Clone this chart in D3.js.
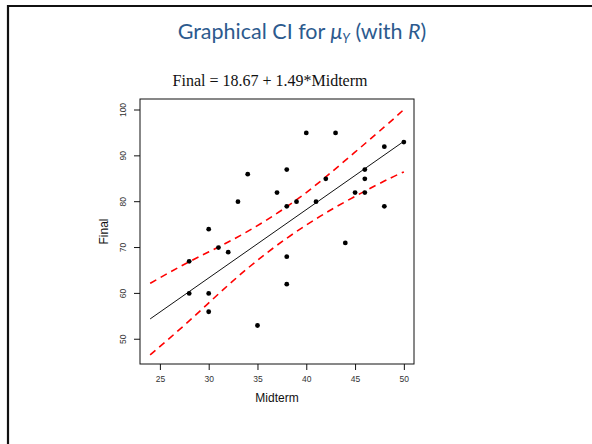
<!DOCTYPE html>
<html>
<head>
<meta charset="utf-8">
<script src="https://cdn.jsdelivr.net/npm/d3@7"></script>
<style>
  html, body { margin: 0; padding: 0; background: #fff; }
  svg { display: block; }
</style>
</head>
<body>
<svg id="chart" width="592" height="444"></svg>
<script>
// data
const midterm = [28, 28, 30, 30, 30, 31, 32, 33, 34, 35, 37, 38, 38, 38, 38, 39, 40, 41, 42, 43, 44, 45, 46, 46, 46, 48, 48, 50];
const finalScore = [67, 60, 74, 60, 56, 70, 69, 80, 86, 53, 82, 87, 79, 68, 62, 80, 95, 80, 85, 95, 71, 82, 87, 85, 82, 92, 79, 93];
const intercept = 18.67;
const slope = 1.49;
const lineRange = [24, 50];
const bandX = [24, 28, 32, 36, 40, 44, 48, 50];
const bandUpper = [62.2, 66.9, 71.2, 76.1, 82.0, 89.0, 96.3, 100.1];
const bandLower = [46.6, 54.0, 61.8, 68.9, 74.9, 80.0, 84.5, 86.5];
const xTicks = [25, 30, 35, 40, 45, 50];
const yTicks = [50, 60, 70, 80, 90, 100];

const svg = d3.select('#chart');

// slide frame (top and left edge)
svg.append('line').attr('x1', 7).attr('x2', 592).attr('y1', 6).attr('y2', 6)
    .attr('stroke', '#111').attr('stroke-width', 2.2);
svg.append('line').attr('x1', 8).attr('x2', 8).attr('y1', 5).attr('y2', 444)
    .attr('stroke', '#111').attr('stroke-width', 2.2);

// slide title
const title = svg.append('text')
    .attr('x', 302).attr('y', 39)
    .attr('text-anchor', 'middle')
    .style('font-family', 'Lato, "Open Sans", sans-serif')
    .style('font-size', '21.5px')
    .style('fill', '#2C5A8E');
title.append('tspan').text('Graphical CI for ');
title.append('tspan').style('font-style', 'italic').text('μ');
title.append('tspan').style('font-style', 'italic').style('font-size', '13px').attr('dy', 4).text('Y');
title.append('tspan').attr('dy', -4).text(' (with ');
title.append('tspan').style('font-style', 'italic').text('R');
title.append('tspan').text(')');

// plot region
const box = { left: 140, top: 99, right: 414, bottom: 364 };

const x = d3.scaleLinear().domain([22.96, 51.04]).range([box.left, box.right]);
const y = d3.scaleLinear().domain([44.6, 102.4]).range([box.bottom, box.top]);

svg.append('text')
    .attr('x', 270).attr('y', 86)
    .attr('text-anchor', 'middle')
    .style('font-family', '"Liberation Serif", "Times New Roman", serif')
    .style('font-size', '16px')
    .style('fill', '#111')
    .text('Final = 18.67 + 1.49*Midterm');

svg.append('rect')
    .attr('x', box.left).attr('y', box.top)
    .attr('width', box.right - box.left).attr('height', box.bottom - box.top)
    .attr('fill', 'none').attr('stroke', '#111').attr('stroke-width', 1);

// axes
const xAxis = svg.append('g')
    .attr('transform', `translate(0,${box.bottom})`)
    .call(d3.axisBottom(x).tickValues(xTicks).tickSize(6).tickPadding(6));
const yAxis = svg.append('g')
    .attr('transform', `translate(${box.left},0)`)
    .call(d3.axisLeft(y).tickValues(yTicks).tickSize(6).tickPadding(5));

[xAxis, yAxis].forEach(g => {
    g.select('.domain').remove();
    g.selectAll('line').attr('stroke', '#111');
    g.selectAll('text')
        .style('font-family', '"Liberation Sans", Arial, sans-serif')
        .style('font-size', '8.5px')
        .style('fill', '#333');
});
yAxis.selectAll('text')
    .attr('text-anchor', 'middle')
    .attr('transform', d => `translate(-17,${y(d)}) rotate(-90)`)
    .attr('x', 0).attr('y', 0).attr('dy', '0.35em');
yAxis.selectAll('.tick').attr('transform', null);
yAxis.selectAll('.tick line').attr('y1', d => y(d)).attr('y2', d => y(d));

svg.append('text')
    .attr('x', (box.left + box.right) / 2).attr('y', 401.5)
    .attr('text-anchor', 'middle')
    .style('font-family', '"Liberation Sans", Arial, sans-serif')
    .style('font-size', '12px')
    .style('fill', '#111')
    .text('Midterm');

svg.append('text')
    .attr('transform', `translate(107.5,${(box.top + box.bottom) / 2}) rotate(-90)`)
    .attr('text-anchor', 'middle')
    .style('font-family', '"Liberation Sans", Arial, sans-serif')
    .style('font-size', '12px')
    .style('fill', '#111')
    .text('Final');

// fitted line
svg.append('line')
    .attr('x1', x(lineRange[0])).attr('y1', y(intercept + slope * lineRange[0]))
    .attr('x2', x(lineRange[1])).attr('y2', y(intercept + slope * lineRange[1]))
    .attr('stroke', '#111').attr('stroke-width', 1);

// confidence band
const band = d3.line()
    .x((d, i) => x(bandX[i]))
    .y(d => y(d))
    .curve(d3.curveNatural);

[bandUpper, bandLower].forEach(vals => {
    svg.append('path')
        .attr('d', band(vals))
        .attr('fill', 'none')
        .attr('stroke', '#f00')
        .attr('stroke-width', 1.6)
        .attr('stroke-dasharray', '7,5');
});

// points
svg.selectAll('circle.pt')
    .data(midterm)
    .enter()
    .append('circle')
    .attr('class', 'pt')
    .attr('cx', d => x(d))
    .attr('cy', (d, i) => y(finalScore[i]))
    .attr('r', 2.4)
    .attr('fill', '#000');
</script>
</body>
</html>
